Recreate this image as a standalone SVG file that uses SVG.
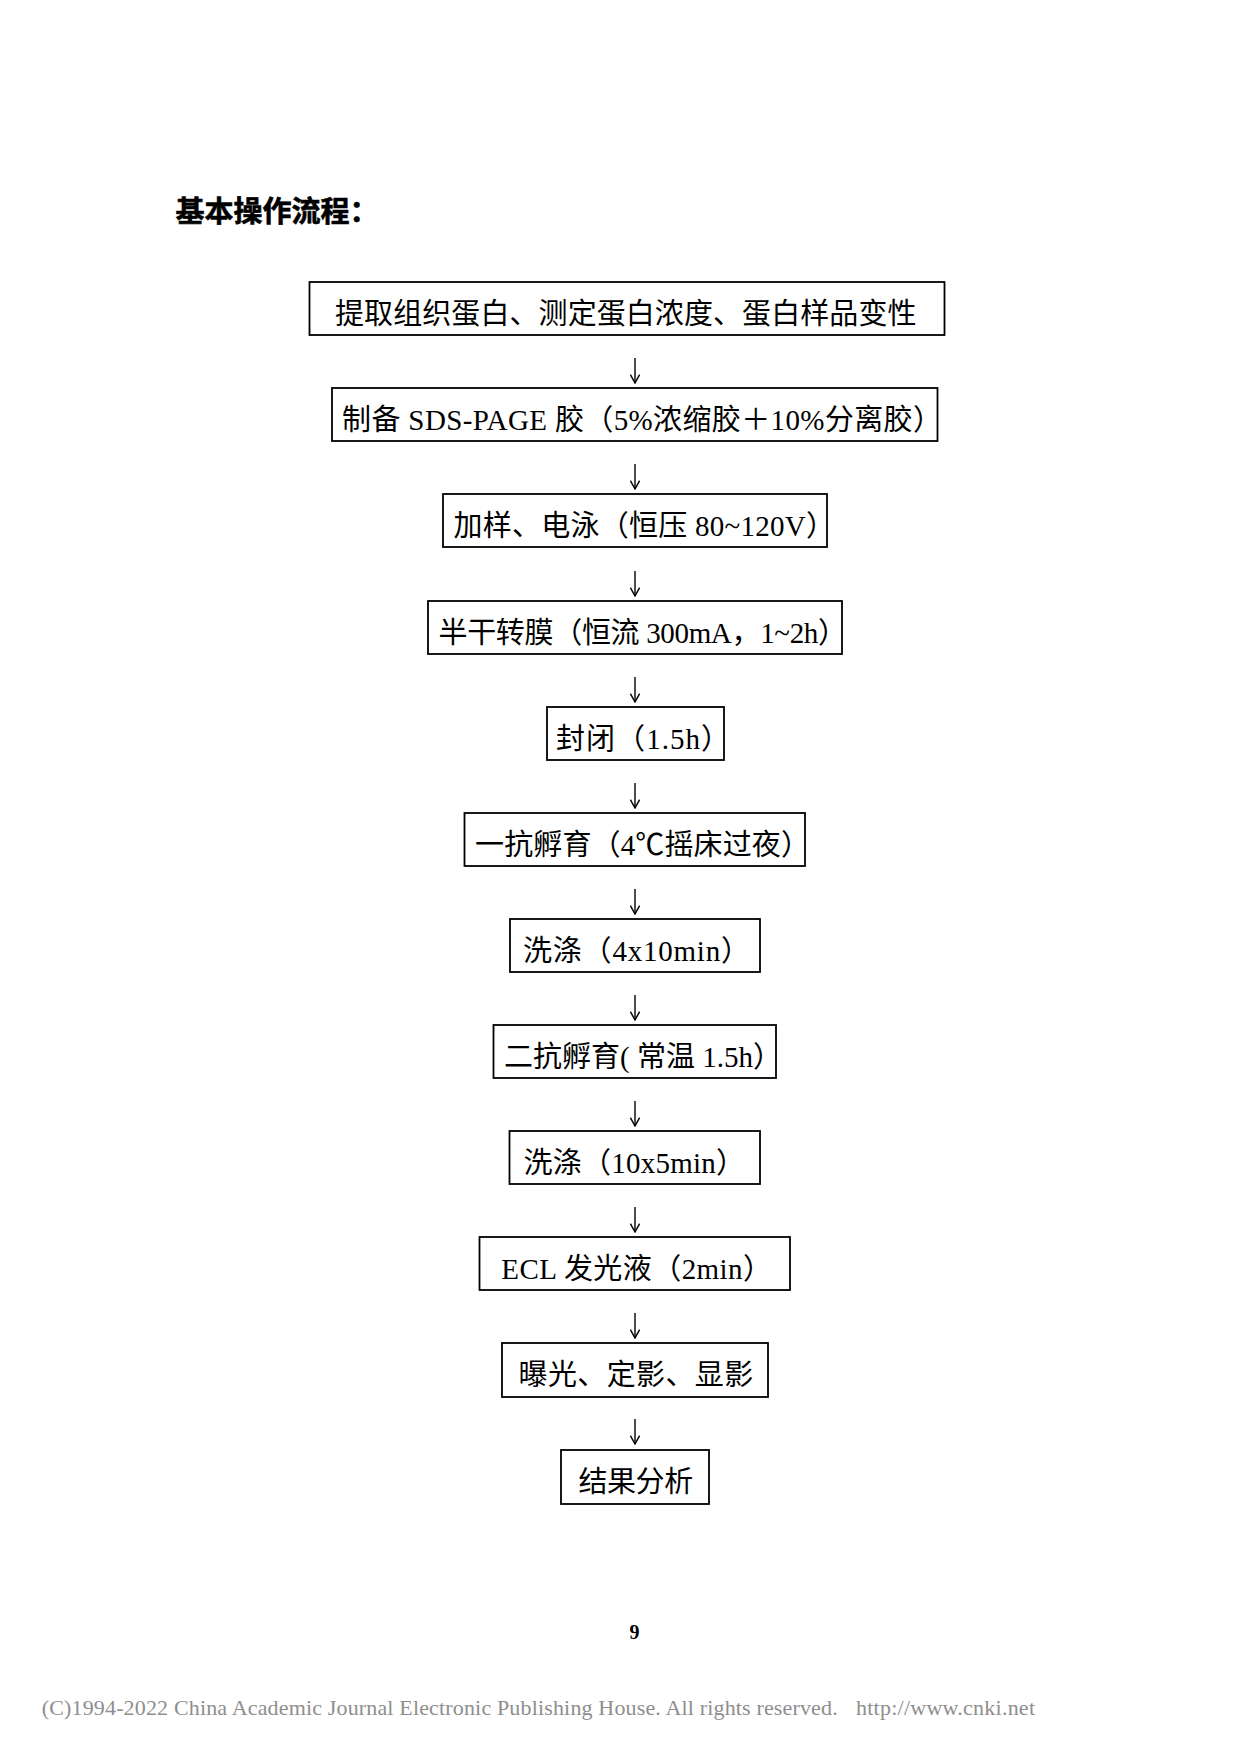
<svg xmlns="http://www.w3.org/2000/svg" width="1240" height="1754" viewBox="0 0 1240 1754">
<style>
  .box { fill: #ffffff; stroke: #000000; stroke-width: 1.8; }
  .lbl { font-family: "Liberation Serif", "Noto Sans CJK SC", serif; font-size: 29px; fill: #000000; }
  .title { font-family: "Noto Sans CJK SC", sans-serif; font-size: 29px; font-weight: bold; fill: #000000; stroke: #000000; stroke-width: 0.6; }
  .conn { stroke: #000000; stroke-width: 1.4; fill: none; }
  .page { font-family: "Liberation Serif", serif; font-size: 20px; font-weight: bold; fill: #000000; }
  .copy { font-family: "Liberation Serif", serif; font-size: 22px; fill: #8e8e8e; }
</style>
<defs>
  <marker id="vhead" viewBox="0 0 10 10" refX="9.3" refY="5" markerWidth="10" markerHeight="10" markerUnits="userSpaceOnUse" orient="auto">
    <path d="M1,0.4 L9.3,5 L1,9.6" fill="none" stroke="#000000" stroke-width="1.4"/>
  </marker>
</defs>
<rect x="0" y="0" width="1240" height="1754" fill="#ffffff"/>

<text class="title" x="175.5" y="221.5">基本操作流程：</text>

<g id="connectors">
  <line class="conn" x1="635" y1="358" x2="635" y2="383" marker-end="url(#vhead)"/>
  <line class="conn" x1="635" y1="464" x2="635" y2="489" marker-end="url(#vhead)"/>
  <line class="conn" x1="635" y1="571" x2="635" y2="596" marker-end="url(#vhead)"/>
  <line class="conn" x1="635" y1="677" x2="635" y2="702" marker-end="url(#vhead)"/>
  <line class="conn" x1="635" y1="783" x2="635" y2="808" marker-end="url(#vhead)"/>
  <line class="conn" x1="635" y1="889" x2="635" y2="914" marker-end="url(#vhead)"/>
  <line class="conn" x1="635" y1="995" x2="635" y2="1020" marker-end="url(#vhead)"/>
  <line class="conn" x1="635" y1="1101" x2="635" y2="1126" marker-end="url(#vhead)"/>
  <line class="conn" x1="635" y1="1207" x2="635" y2="1232" marker-end="url(#vhead)"/>
  <line class="conn" x1="635" y1="1313" x2="635" y2="1338" marker-end="url(#vhead)"/>
  <line class="conn" x1="635" y1="1419" x2="635" y2="1444" marker-end="url(#vhead)"/>
</g>

<g id="n1">
  <rect class="box" x="309.5" y="282" width="635" height="53"/>
  <text class="lbl" x="335" y="324" textLength="581.5" lengthAdjust="spacing">提取组织蛋白、测定蛋白浓度、蛋白样品变性</text>
</g>
<g id="n2">
  <rect class="box" x="332" y="388" width="605.5" height="53"/>
  <text class="lbl" x="342" y="430" textLength="600" lengthAdjust="spacing">制备 SDS-PAGE 胶（5%浓缩胶＋10%分离胶）</text>
</g>
<g id="n3">
  <rect class="box" x="443" y="494" width="384" height="53"/>
  <text class="lbl" x="453.5" y="536" textLength="381.5" lengthAdjust="spacing">加样、电泳（恒压 80~120V）</text>
</g>
<g id="n4">
  <rect class="box" x="428" y="601" width="414" height="53"/>
  <text class="lbl" x="438.5" y="643" textLength="408.5" lengthAdjust="spacing">半干转膜（恒流 300mA，1~2h）</text>
</g>
<g id="n5">
  <rect class="box" x="547" y="707" width="177" height="53"/>
  <text class="lbl" x="556" y="749" textLength="174" lengthAdjust="spacing">封闭（1.5h）</text>
</g>
<g id="n6">
  <rect class="box" x="464.5" y="813" width="340.5" height="53"/>
  <text class="lbl" x="475" y="855" textLength="335" lengthAdjust="spacing">一抗孵育（4℃摇床过夜）</text>
</g>
<g id="n7">
  <rect class="box" x="510" y="919" width="250" height="53"/>
  <text class="lbl" x="523" y="961" textLength="227" lengthAdjust="spacing">洗涤（4x10min）</text>
</g>
<g id="n8">
  <rect class="box" x="493.5" y="1025" width="282.5" height="53"/>
  <text class="lbl" x="504" y="1067" textLength="278" lengthAdjust="spacing">二抗孵育( 常温 1.5h）</text>
</g>
<g id="n9">
  <rect class="box" x="509.5" y="1131" width="250.5" height="53"/>
  <text class="lbl" x="523.5" y="1173" textLength="221.5" lengthAdjust="spacing">洗涤（10x5min）</text>
</g>
<g id="n10">
  <rect class="box" x="479.5" y="1237" width="310.5" height="53"/>
  <text class="lbl" x="501.3" y="1279" textLength="270.7" lengthAdjust="spacing">ECL 发光液（2min）</text>
</g>
<g id="n11">
  <rect class="box" x="502" y="1343" width="266" height="54"/>
  <text class="lbl" x="518.5" y="1385" textLength="234.7" lengthAdjust="spacing">曝光、定影、显影</text>
</g>
<g id="n12">
  <rect class="box" x="561" y="1450" width="148" height="54"/>
  <text class="lbl" x="578.5" y="1492" textLength="114.7" lengthAdjust="spacing">结果分析</text>
</g>

<text class="page" x="634.5" y="1639" text-anchor="middle">9</text>
<text class="copy" x="41.7" y="1715" textLength="796" lengthAdjust="spacing">(C)1994-2022 China Academic Journal Electronic Publishing House. All rights reserved.</text>
<text class="copy" x="856" y="1715" textLength="179" lengthAdjust="spacing">http://www.cnki.net</text>
</svg>
